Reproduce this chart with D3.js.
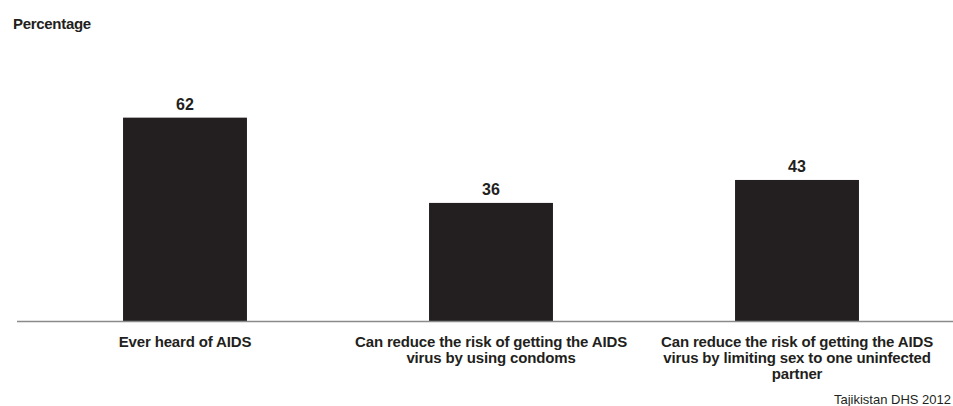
<!DOCTYPE html>
<html lang="en">
<head>
    <meta charset="UTF-8">
    <title>Percentage</title>
    <style>
        body { margin: 0; background: #fff; }
        svg text { font-family: "Liberation Sans", Arial, sans-serif; fill: #231f20; }
    </style>
    <script src="https://d3js.org/d3.v7.min.js"></script>
</head>
<body>
    <div id="chart"></div>
    <script>
        // 数据
        const categories = ["Ever heard of AIDS",
            "Can reduce the risk of getting the AIDS virus by using condoms",
            "Can reduce the risk of getting the AIDS virus by limiting sex to one uninfected partner"];
        const labelLines = [
            ["Ever heard of AIDS"],
            ["Can reduce the risk of getting the AIDS", "virus by using condoms"],
            ["Can reduce the risk of getting the AIDS", "virus by limiting sex to one uninfected", "partner"]
        ];
        const values = [62, 36, 43];

        const W = 953, H = 406;
        const baseY = 321;

        const svg = d3.select("#chart")
            .append("svg")
            .attr("width", W)
            .attr("height", H);

        const x = d3.scaleBand()
            .domain(categories)
            .range([32, 950])
            .paddingInner(0.595)
            .paddingOuter(0.2975);

        const y = d3.scaleLinear()
            .domain([0, 100])
            .range([baseY, baseY - 328]);

        // 标题
        svg.append("text")
            .attr("x", 13)
            .attr("y", 29)
            .attr("font-size", 15)
            .attr("font-weight", "bold")
            .attr("letter-spacing", -0.3)
            .text("Percentage");

        // 柱子
        svg.selectAll("rect.bar")
            .data(values)
            .join("rect")
            .attr("class", "bar")
            .attr("x", (d, i) => x(categories[i]))
            .attr("y", d => y(d))
            .attr("width", x.bandwidth())
            .attr("height", d => y(0) - y(d))
            .attr("fill", "#231f20");

        // 数值标签
        svg.selectAll("text.val")
            .data(values)
            .join("text")
            .attr("class", "val")
            .attr("x", (d, i) => x(categories[i]) + x.bandwidth() / 2)
            .attr("y", d => y(d) - 8)
            .attr("text-anchor", "middle")
            .attr("font-size", 16)
            .attr("font-weight", "bold")
            .text(d => d);

        // 基线
        svg.append("line")
            .attr("x1", 17)
            .attr("x2", W)
            .attr("y1", baseY + 0.5)
            .attr("y2", baseY + 0.5)
            .attr("stroke", "#8a8a8a")
            .attr("stroke-width", 1.5);

        // 类别标签
        labelLines.forEach((lines, i) => {
            const cx = x(categories[i]) + x.bandwidth() / 2;
            const t = svg.append("text")
                .attr("x", cx)
                .attr("y", baseY + 26)
                .attr("text-anchor", "middle")
                .attr("font-size", 15)
                .attr("font-weight", "bold")
                .attr("letter-spacing", -0.15);
            lines.forEach((s, k) => {
                t.append("tspan")
                    .attr("x", cx)
                    .attr("dy", k === 0 ? 0 : 16)
                    .text(s);
            });
        });

        // 来源
        svg.append("text")
            .attr("x", 951)
            .attr("y", 404)
            .attr("text-anchor", "end")
            .attr("font-size", 13)
            .text("Tajikistan DHS 2012");
    </script>
</body>
</html>
